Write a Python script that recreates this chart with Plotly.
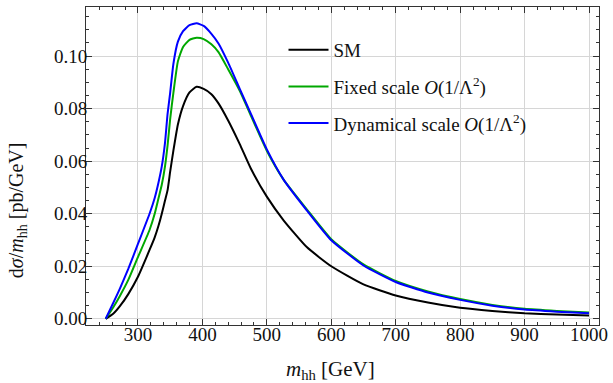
import plotly.graph_objects as go

# m_hh [GeV]
m_hh = [250, 262, 272, 285, 300, 318, 326, 332, 337, 342, 346, 350, 355, 362, 370,
        380, 391, 402, 414, 425, 440, 458, 475, 500, 526, 562, 600, 650, 700, 750,
        800, 850, 900, 950, 1000]

sm = [0.0, 0.0020, 0.0048, 0.0094, 0.0160, 0.0262, 0.0310, 0.0355, 0.0400, 0.0450,
      0.0490, 0.0560, 0.0640, 0.0740, 0.0810, 0.0862, 0.0883, 0.0875, 0.0855, 0.0820,
      0.0755, 0.0665, 0.0573, 0.0465, 0.0375, 0.0273, 0.0200, 0.0131, 0.0089, 0.0062,
      0.0042, 0.0030, 0.0021, 0.0016, 0.0013]

fixed = [0.0, 0.0045, 0.0087, 0.0148, 0.0235, 0.0338, 0.0400, 0.0460, 0.0510, 0.0580,
         0.0660, 0.0760, 0.0860, 0.0980, 0.1035, 0.1062, 0.1070, 0.1065, 0.1045, 0.1015,
         0.0950, 0.0868, 0.0775, 0.0640, 0.0530, 0.0417, 0.0303, 0.0207, 0.0144, 0.0104,
         0.0075, 0.0053, 0.0038, 0.0030, 0.0024]

dynamical = [0.0, 0.0062, 0.0115, 0.0190, 0.0285, 0.0400, 0.0460, 0.0520, 0.0580, 0.0670,
             0.0780, 0.0860, 0.0970, 0.1055, 0.1095, 0.1118, 0.1125, 0.1115, 0.1085, 0.1048,
             0.0975, 0.0875, 0.0782, 0.0645, 0.0530, 0.0413, 0.0299, 0.0203, 0.0140, 0.0100,
             0.0072, 0.0050, 0.0035, 0.0027, 0.0021]

x_ticks = [300, 400, 500, 600, 700, 800, 900, 1000]
y_ticks = [0.00, 0.02, 0.04, 0.06, 0.08, 0.10]

names = ["SM<sup>&nbsp;</sup>", "Fixed scale <i>O</i>(1/Λ<sup>2</sup>)",
         "Dynamical scale <i>O</i>(1/Λ<sup>2</sup>)"]
colors = ["#000000", "#00a800", "#0000ff"]

FONT = "Liberation Serif"
TXT = "#111111"
fig = go.Figure()
for i, (ys, nm, c) in enumerate(zip([sm, fixed, dynamical], names, colors)):
    fig.add_trace(go.Scatter(x=m_hh, y=ys, mode="lines", name=nm,
                             line=dict(color=c, width=2, shape="spline", smoothing=0.5),
                             legendgroup=f"g{i}"))

axis_common = dict(
    showline=True, linecolor="#333333", linewidth=1, mirror="ticks",
    ticks="inside", ticklen=6, tickcolor="#333333", tickwidth=1,
    showgrid=True, gridcolor="#d6d6d6", gridwidth=1, zeroline=False,
    tickfont=dict(family=FONT, size=19, color=TXT), automargin=False,
)

fig.update_xaxes(range=[219.4, 1015.5], tickvals=x_ticks, ticklabelstandoff=-8,
                 minor=dict(dtick=20, ticks="inside", ticklen=3, tickcolor="#333333", showgrid=False),
                 **axis_common)
fig.update_yaxes(range=[-0.00236, 0.1187], tickvals=y_ticks, tickformat=".2f", ticklabelstandoff=-6,
                 minor=dict(dtick=0.005, ticks="inside", ticklen=3, tickcolor="#333333", showgrid=False),
                 **axis_common)

fig.update_layout(
    width=613, height=383,
    margin=dict(l=86, r=14, t=7, b=58),
    paper_bgcolor="white", plot_bgcolor="white",
    font=dict(family=FONT, size=19, color=TXT),
    showlegend=True,
    legend=dict(x=0.385, y=0.925, xanchor="left", yanchor="top", itemwidth=40,
                bgcolor="rgba(0,0,0,0)", traceorder="grouped", tracegroupgap=9,
                font=dict(family=FONT, size=19, color=TXT)),
    annotations=[
        dict(text="<i>m</i><sub>hh</sub> [GeV]", xref="paper", yref="paper",
             x=0.476, y=-0.143, xanchor="center", yanchor="middle", showarrow=False,
             font=dict(family=FONT, size=21, color=TXT)),
        dict(text="d<i>σ</i>/<i>m</i><sub>hh</sub> [pb/GeV]", xref="paper", yref="paper",
             x=-0.1346, y=0.361, xanchor="center", yanchor="middle", showarrow=False,
             textangle=-90, font=dict(family=FONT, size=20, color=TXT)),
    ],
)

fig.write_html("out.html", config={"displayModeBar": False},
               post_script="document.body.style.margin='0px';document.body.style.padding='0px';")
